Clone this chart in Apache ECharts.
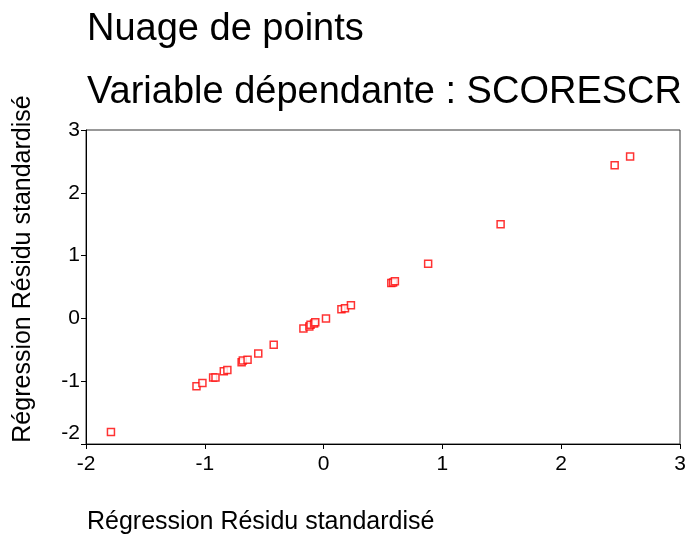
<!DOCTYPE html>
<html>
<head>
<meta charset="utf-8">
<script src="https://cdn.jsdelivr.net/npm/echarts@6/dist/echarts.min.js"></script>
<style>
  html, body { margin: 0; padding: 0; background: #fff; }
  #chart { width: 688px; height: 536px; }
</style>
</head>
<body>
<div id="chart"></div>
<script>
// standardized residuals (x, y pairs)
const residX = [-1.79, -1.07, -1.02, -0.93, -0.91, -0.84, -0.81, -0.69, -0.68, -0.64,
  -0.55, -0.42, -0.17, -0.12, -0.11, -0.08, -0.07, 0.02, 0.15, 0.18,
  0.23, 0.57, 0.585, 0.60, 0.88, 1.49, 2.45, 2.58]
const residY = [-1.81, -1.08, -1.03, -0.94, -0.94, -0.84, -0.82, -0.70, -0.67, -0.66,
  -0.56, -0.42, -0.16, -0.13, -0.10, -0.08, -0.06, 0.0, 0.145, 0.16,
  0.21, 0.565, 0.57, 0.59, 0.87, 1.50, 2.44, 2.58]

const titleText = 'Nuage de points'
const subtitleText = 'Variable dépendante : SCORESCR'
const axisTitle = 'Régression Résidu standardisé'

const font = "'Liberation Sans', Arial, sans-serif"

const chart = echarts.init(document.getElementById('chart'))

const points = residX.map((x, i) => [x, residY[i]])

const axisCommon = {
  type: 'value',
  min: -2,
  max: 3,
  interval: 1,
  splitLine: { show: false },
  axisLine: { show: true, onZero: false, lineStyle: { color: '#000', width: 1 } },
  axisTick: { show: true, inside: false, length: 5, lineStyle: { color: '#000' } },
  axisLabel: { color: '#000', fontSize: 21, fontFamily: font }
}

chart.setOption({
  backgroundColor: '#fff',
  animation: false,
  title: [
    {
      text: titleText,
      left: 82,
      top: 6,
      textStyle: { fontSize: 38, fontWeight: 'normal', color: '#000', fontFamily: font }
    },
    {
      text: subtitleText,
      left: 82,
      top: 69,
      textStyle: { fontSize: 38, fontWeight: 'normal', color: '#000', fontFamily: font }
    }
  ],
  grid: {
    left: 86,
    right: 8,
    top: 130,
    bottom: 92,
    outerBoundsMode: 'none',
    containLabel: false,
    show: true,
    borderColor: '#333',
    borderWidth: 1
  },
  xAxis: {
    ...axisCommon,
    name: axisTitle,
    nameLocation: 'start',
    nameGap: -1,
    nameTextStyle: {
      align: 'left',
      verticalAlign: 'top',
      padding: [66, 0, 0, 0],
      fontSize: 25,
      color: '#000',
      fontFamily: font
    },
    axisLabel: { ...axisCommon.axisLabel, margin: 10 }
  },
  yAxis: {
    ...axisCommon,
    name: axisTitle,
    nameLocation: 'middle',
    nameGap: 50,
    nameTextStyle: {
      fontSize: 25,
      color: '#000',
      fontFamily: font,
      padding: [0, 0, 0, 36]
    },
    axisLabel: { ...axisCommon.axisLabel, margin: 6, verticalAlignMinLabel: 'bottom' }
  },
  series: [
    {
      type: 'scatter',
      data: points,
      symbol: 'rect',
      symbolSize: 7,
      itemStyle: { color: '#fff', borderColor: '#ff0000', borderWidth: 1.5 }
    }
  ]
})
</script>
</body>
</html>
